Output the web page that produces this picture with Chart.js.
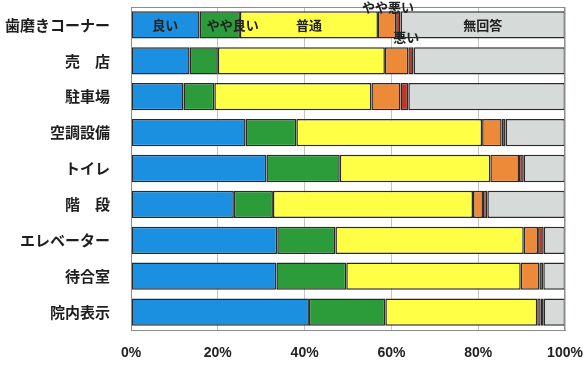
<!DOCTYPE html>
<html>
<head>
<meta charset="utf-8">
<script src="https://cdn.jsdelivr.net/npm/chart.js@4/dist/chart.umd.min.js"></script>
<style>
  html, body { margin: 0; padding: 0; background: #ffffff; }
  #wrap { width: 587px; height: 365px; }
</style>
</head>
<body>
<div id="wrap"><canvas id="c" width="587" height="365"></canvas></div>
<script>
// Facility ratings (% of respondents)
const categories = ['歯磨きコーナー', '売　店', '駐車場', '空調設備', 'トイレ', '階　段', 'エレベーター', '待合室', '院内表示'];
const seriesNames = ['良い', 'やや良い', '普通', 'やや悪い', '悪い', '無回答'];

const good       = [15.8, 13.5, 12.1, 26.4, 31.2, 23.7, 33.7, 33.5, 41.0];
const fairlyGood = [ 9.3,  6.5,  7.1, 11.7, 16.9,  9.0, 13.4, 16.1, 17.6];
const average    = [31.8, 38.5, 36.2, 42.8, 34.7, 46.1, 43.4, 40.2, 35.0];
const fairlyBad  = [ 4.2,  5.4,  6.7,  4.5,  6.6,  2.3,  3.3,  4.3,  0.8];
const bad        = [ 1.0,  1.2,  1.8,  0.9,  1.1,  1.0,  1.3,  0.9,  0.7];
const noAnswer   = [37.9, 34.9, 36.1, 13.7,  9.5, 17.9,  4.9,  5.0,  4.9];

const xTicks = [0, 20, 40, 60, 80, 100];

const seriesValues = [good, fairlyGood, average, fairlyBad, bad, noAnswer];
const seriesColors = ['#1b8fe0', '#2c9b3a', '#ffff46', '#ec8a3a', '#b8392a', '#d6dad9'];

// Legend text is written inside the first bar; nudges keep overlapping names readable
const inBarNudge = [
  { dx: 0,  dy: 0 },
  { dx: 13, dy: 0 },
  { dx: 0,  dy: 0 },
  { dx: 1,  dy: -18 },
  { dx: 8,  dy: 12 },
  { dx: 0,  dy: 0 }
];

const inBarLabels = {
  id: 'inBarLabels',
  afterDatasetsDraw(chart) {
    const { ctx, scales } = chart;
    const yMid = scales.y.getPixelForValue(0);
    ctx.save();
    ctx.font = 'bold 13px "Noto Sans CJK JP"';
    ctx.fillStyle = '#222';
    ctx.textAlign = 'center';
    ctx.textBaseline = 'middle';
    let start = 0;
    seriesValues.forEach((vals, i) => {
      const v = vals[0];
      const cx = scales.x.getPixelForValue(start + v / 2);
      ctx.fillText(seriesNames[i], cx + inBarNudge[i].dx, yMid + inBarNudge[i].dy);
      start += v;
    });
    ctx.restore();
  }
};

const plotFrame = {
  id: 'plotFrame',
  afterDatasetsDraw(chart) {
    const { ctx, chartArea: a } = chart;
    ctx.save();
    ctx.strokeStyle = '#8c8c8c';
    ctx.lineWidth = 1;
    ctx.strokeRect(a.left + 0.5, a.top + 0.5, a.right - a.left - 1, a.bottom - a.top);
    ctx.restore();
  }
};

function noScalePadding(scale) {
  scale.paddingLeft = 0;
  scale.paddingRight = 0;
  scale.paddingTop = 0;
  scale.paddingBottom = 0;
}

new Chart(document.getElementById('c'), {
  type: 'bar',
  data: {
    labels: categories,
    datasets: seriesValues.map((vals, i) => ({
      label: seriesNames[i],
      data: vals,
      backgroundColor: seriesColors[i],
      borderColor: '#2a2a2a',
      borderWidth: 1.5,
      borderSkipped: false,
      barPercentage: 0.76,
      categoryPercentage: 1.0
    }))
  },
  options: {
    indexAxis: 'y',
    responsive: false,
    animation: false,
    layout: { padding: { top: 7, right: 22, left: 0, bottom: 0 } },
    plugins: {
      legend: { display: false },
      tooltip: { enabled: false }
    },
    scales: {
      x: {
        stacked: true,
        min: 0,
        max: 100,
        afterBuildTicks(scale) { scale.ticks = xTicks.map(v => ({ value: v })); },
        afterFit(scale) { scale.height = 35; noScalePadding(scale); },
        ticks: {
          padding: 15,
          color: '#222',
          maxRotation: 0,
          font: { family: '"Liberation Sans", Arial', size: 14, weight: 'bold' },
          callback: v => v + '%'
        },
        grid: { color: '#c4c4c4', lineWidth: 1, drawTicks: false },
        border: { color: '#8c8c8c' }
      },
      y: {
        stacked: true,
        afterFit(scale) { scale.width = 131; noScalePadding(scale); },
        ticks: {
          padding: 13,
          color: '#1e1e1e',
          font: { family: '"Noto Sans CJK JP"', size: 15, weight: 'bold' }
        },
        grid: { display: false },
        border: { color: '#8c8c8c' }
      }
    }
  },
  plugins: [plotFrame, inBarLabels]
});
</script>
</body>
</html>
